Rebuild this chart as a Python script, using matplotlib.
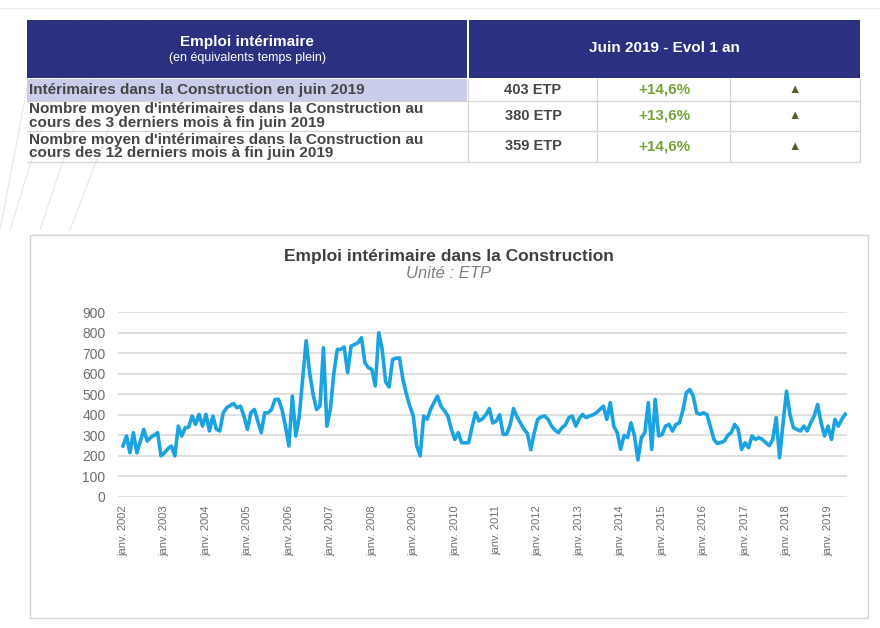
import matplotlib.pyplot as plt
from matplotlib.patches import Rectangle
from matplotlib.lines import Line2D
import numpy as np

plt.rcParams['font.family'] = ['Liberation Sans', 'DejaVu Sans']

# monthly values, janv. 2002 -> juin 2019 (ETP)
v2002 = [248, 297, 215, 313, 215, 270, 329, 272, 290, 300, 313, 200]
v2003 = [215, 235, 248, 200, 345, 297, 337, 340, 394, 353, 402, 345]
v2004 = [402, 321, 394, 330, 321, 410, 434, 445, 455, 434, 442, 394]
v2005 = [329, 410, 426, 370, 313, 410, 410, 426, 475, 475, 426, 345]
v2006 = [248, 491, 297, 394, 580, 760, 605, 500, 426, 442, 726, 345]
v2007 = [426, 600, 718, 718, 730, 605, 734, 742, 750, 775, 653, 629]
v2008 = [621, 540, 799, 718, 560, 535, 669, 675, 677, 572, 500, 442]
v2009 = [394, 248, 200, 394, 378, 426, 460, 491, 442, 420, 394, 330]
v2010 = [280, 313, 264, 264, 264, 340, 410, 370, 380, 400, 430, 360]
v2011 = [370, 400, 305, 305, 350, 430, 390, 361, 330, 310, 230, 313]
v2012 = [378, 390, 394, 378, 345, 325, 313, 337, 350, 386, 394, 345]
v2013 = [380, 402, 386, 394, 400, 410, 426, 442, 378, 459, 345, 313]
v2014 = [232, 300, 289, 361, 297, 180, 289, 313, 459, 232, 475, 297]
v2015 = [305, 345, 353, 321, 353, 361, 420, 507, 523, 491, 410, 402]
v2016 = [410, 400, 340, 280, 260, 265, 272, 300, 313, 353, 330, 232]
v2017 = [264, 240, 297, 280, 289, 280, 264, 250, 280, 386, 191, 361]
v2018 = [515, 400, 337, 329, 321, 345, 321, 361, 394, 450, 361, 297]
v2019 = [345, 280, 378, 345, 378, 403]

values = (v2002 + v2003 + v2004 + v2005 + v2006 + v2007 + v2008 + v2009 + v2010
          + v2011 + v2012 + v2013 + v2014 + v2015 + v2016 + v2017 + v2018 + v2019)
years = list(range(2002, 2020))
tick_labels = ['janv. %d' % y for y in years]

# summary table
row_labels = ["Intérimaires dans la Construction en juin 2019",
              "Nombre moyen d'intérimaires dans la Construction au\ncours des 3 derniers mois à fin juin 2019",
              "Nombre moyen d'intérimaires dans la Construction au\ncours des 12 derniers mois à fin juin 2019"]
row_etp = ['403 ETP', '380 ETP', '359 ETP']
row_evol = ['+14,6%', '+13,6%', '+14,6%']

W, H = 880, 628
fig = plt.figure(figsize=(8.8, 6.28), dpi=100)


def fx(x):
    return x / W


def fy(y):
    return 1 - y / H


def box(x0, y0, x1, y1, z=1, **kw):
    fig.add_artist(Rectangle((fx(x0), fy(y1)), (x1 - x0) / W, (y1 - y0) / H,
                             transform=fig.transFigure, zorder=z, **kw))


def hline(x0, x1, y, **kw):
    fig.add_artist(Line2D([fx(x0), fx(x1)], [fy(y), fy(y)], transform=fig.transFigure, **kw))


def vline(x, y0, y1, **kw):
    fig.add_artist(Line2D([fx(x), fx(x)], [fy(y0), fy(y1)], transform=fig.transFigure, **kw))


# faint decorative strokes on the left
for x0, x1 in [(40, 0), (75, 10), (110, 40), (150, 70)]:
    fig.add_artist(Line2D([fx(x0), fx(x1)], [fy(20), fy(230)], transform=fig.transFigure,
                          color='#e6e6e6', lw=0.8, zorder=-3))
hline(0, 880, 8, color='#ececec', lw=1, zorder=-3)

# table header
navy = '#2b3180'
box(27, 20, 467, 78, facecolor=navy, edgecolor='none')
box(469, 20, 860, 78, facecolor=navy, edgecolor='none')
fig.text(fx(247), fy(42), 'Emploi intérimaire', color='white', fontsize=11,
         fontweight='bold', ha='center', va='center')
fig.text(fx(247), fy(58), '(en équivalents temps plein)', color='white', fontsize=9,
         ha='center', va='center')
fig.text(fx(664), fy(48), 'Juin 2019 - Evol 1 an', color='white', fontsize=11,
         fontweight='bold', ha='center', va='center')

# table body
box(27, 79, 467, 101, facecolor='#c9cdea', edgecolor='none')
row_edges = [79, 101, 131, 162]
grid_c = '#d4d4d4'
for yy in row_edges[1:]:
    hline(27, 860, yy, color=grid_c, lw=0.9)
for xx in [468, 597, 730, 860]:
    vline(xx, 79, 162, color=grid_c, lw=0.9)
for i in range(3):
    yc = (row_edges[i] + row_edges[i + 1]) / 2
    fig.text(fx(29), fy(yc), row_labels[i], color='#454545', fontsize=11,
             fontweight='bold', ha='left', va='center', linespacing=0.95)
    fig.text(fx(533), fy(yc), row_etp[i], color='#454545', fontsize=10.5,
             fontweight='bold', ha='center', va='center')
    fig.text(fx(664), fy(yc), row_evol[i], color='#76a33a', fontsize=11,
             fontweight='bold', ha='center', va='center')
    fig.text(fx(795), fy(yc), '▲', color='#4f6228', fontsize=9,
             ha='center', va='center')

# chart frame
box(30, 235, 868, 618, z=-2, facecolor='white', edgecolor='#d6d6d6', lw=1)
fig.text(fx(449), fy(257), 'Emploi intérimaire dans la Construction', color='#404040',
         fontsize=12.5, fontweight='bold', ha='center', va='center')
fig.text(fx(449), fy(273), 'Unité : ETP', color='#7f7f7f', fontsize=12,
         style='italic', ha='center', va='center')

ax = fig.add_axes([fx(118), fy(497), (847 - 118) / W, (497 - 312) / H])
x = np.arange(len(values))
ax.plot(x, values, color='#1aa3e0', lw=2.6, solid_joinstyle='round', zorder=3)

ax.set_ylim(0, 900)
ax.set_yticks(range(0, 901, 100))
ax.set_xlim(-1.45, 209.5)
ax.set_xticks(x[::12])
ax.set_xticklabels(tick_labels, rotation=90)
ax.grid(axis='y', color='#dcdcdc', lw=1.3)
ax.set_axisbelow(True)
for s in ax.spines.values():
    s.set_visible(False)
ax.tick_params(axis='both', length=0, colors='#6e6e6e')
ax.tick_params(axis='y', labelsize=10, pad=9)
ax.tick_params(axis='x', labelsize=8, pad=6)
ax.patch.set_alpha(0)

plt.savefig('out.png', dpi=100)
